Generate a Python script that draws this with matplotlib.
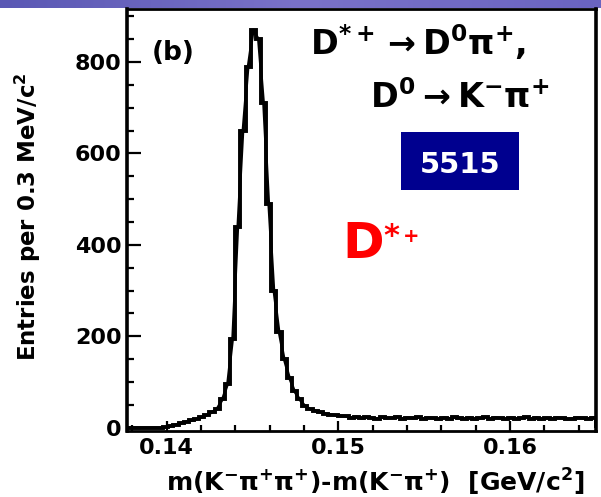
import numpy as np
import matplotlib
matplotlib.use("Agg")
import matplotlib.pyplot as plt
from matplotlib.ticker import MultipleLocator
from matplotlib.colors import LinearSegmentedColormap
from matplotlib.patches import Rectangle

plt.rcParams['font.family'] = ['DejaVu Sans']
plt.rcParams['font.weight'] = 'bold'
plt.rcParams['mathtext.default'] = 'bf'

# mass difference histogram, 0.3 MeV bins starting at 0.1377 GeV
bin_start = 0.1377
bin_width = 0.0003
counts = [
    0, 0, 0, 0, 0, 0,
    0, 1, 4, 7, 10, 13, 16, 19, 23, 28, 34, 42, 62, 95,
    195, 440, 650, 790, 870, 850, 710, 490, 300, 210,
    150, 110, 80, 62, 48, 41, 37, 34, 31, 29,
    27, 26, 25,
    22, 24, 21, 23, 22, 20, 23, 21, 22, 24, 20, 22, 21, 23, 20, 22,
    21, 19, 22, 20, 23, 21, 20, 22, 19, 21, 23, 20, 22, 21, 19, 22,
    20, 21, 23, 20, 22, 19, 21, 20, 22, 21, 19, 20, 22, 21, 20, 22,
]
signal_yield = "5515"

counts = np.array(counts, dtype=float)
centers = bin_start + bin_width * (np.arange(len(counts)) + 0.5)
edges = bin_start + bin_width * np.arange(len(counts) + 1)

fig = plt.figure(figsize=(6.01, 4.97), dpi=100)

# purple slide strip at the top
strip = fig.add_axes([0, 1 - 8 / 497, 1, 8 / 497])
cmap = LinearSegmentedColormap.from_list("strip", ["#5a58b4", "#7a72c8", "#6a64c0"])
strip.imshow(np.linspace(0, 1, 256)[None, :], aspect="auto", cmap=cmap)
strip.axis("off")

ax = fig.add_axes([127 / 601, 1 - 431 / 497, (596 - 127) / 601, (431 - 9) / 497])

ax.stairs(counts, edges, color="black", linewidth=2.8)
ax.plot(centers, counts, color="black", linewidth=2.0)

ax.set_xlim(0.1377, 0.1650)
ax.set_ylim(-7, 916)
ax.xaxis.set_major_locator(MultipleLocator(0.01))
ax.xaxis.set_minor_locator(MultipleLocator(0.002))
ax.yaxis.set_major_locator(MultipleLocator(200))
ax.yaxis.set_minor_locator(MultipleLocator(50))
ax.set_xticks([0.14, 0.15, 0.16])
ax.set_xticklabels(["0.14", "0.15", "0.16"])
ax.tick_params(which="both", direction="in", width=1.6, labelsize=16)
ax.tick_params(axis="y", which="major", length=10, pad=4)
ax.tick_params(axis="y", which="minor", length=5)
ax.tick_params(axis="x", which="major", length=7, pad=5)
ax.tick_params(axis="x", which="minor", length=4.5)
for lab in ax.get_xticklabels() + ax.get_yticklabels():
    lab.set_fontweight("bold")
for side in ["left", "right"]:
    ax.spines[side].set_linewidth(2.6)
for side in ["top", "bottom"]:
    ax.spines[side].set_linewidth(2.0)

ax.set_ylabel("Entries per 0.3 MeV/c$^{2}$", fontsize=16.5, fontweight="bold")
ax.yaxis.set_label_coords(-0.179, 0.507)
ax.set_xlabel("m(K$^{-}$π$^{+}$π$^{+}$)-m(K$^{-}$π$^{+}$)  [GeV/c$^{2}$]",
              fontsize=18, fontweight="bold")
ax.xaxis.set_label_coords(0.529, -0.085)

ax.text(0.053, 0.879, "(b)", transform=ax.transAxes, fontsize=19,
        fontweight="bold", va="baseline", ha="left")
ax.text(0.39, 0.891, r"D$^{*+}$$\rightarrow$D$^{0}$π$^{+}$,", transform=ax.transAxes,
        fontsize=24, fontweight="bold", va="baseline", ha="left")
ax.text(0.518, 0.765, r"D$^{0}$$\rightarrow$K$^{-}$π$^{+}$", transform=ax.transAxes,
        fontsize=24, fontweight="bold", va="baseline", ha="left")

# yield box
ax.add_patch(Rectangle((0.584, 0.571), 0.252, 0.138, transform=ax.transAxes,
                       facecolor="#00008f", edgecolor="none", zorder=3))
ax.text(0.710, 0.611, signal_yield, transform=ax.transAxes, fontsize=21,
        fontweight="bold", color="white", ha="center", va="baseline", zorder=4)

# red D*+ annotation
ax.text(0.460, 0.409, "D", transform=ax.transAxes, fontsize=36,
        fontweight="bold", color="#ff0000", ha="left", va="baseline")
ax.text(0.563, 0.440, "*", transform=ax.transAxes, fontsize=22,
        fontweight="bold", color="#ff0000", ha="center", va="baseline")
ax.text(0.606, 0.447, "+", transform=ax.transAxes, fontsize=14,
        fontweight="bold", color="#ff0000", ha="center", va="baseline")

fig.savefig("out.png", dpi=100)
